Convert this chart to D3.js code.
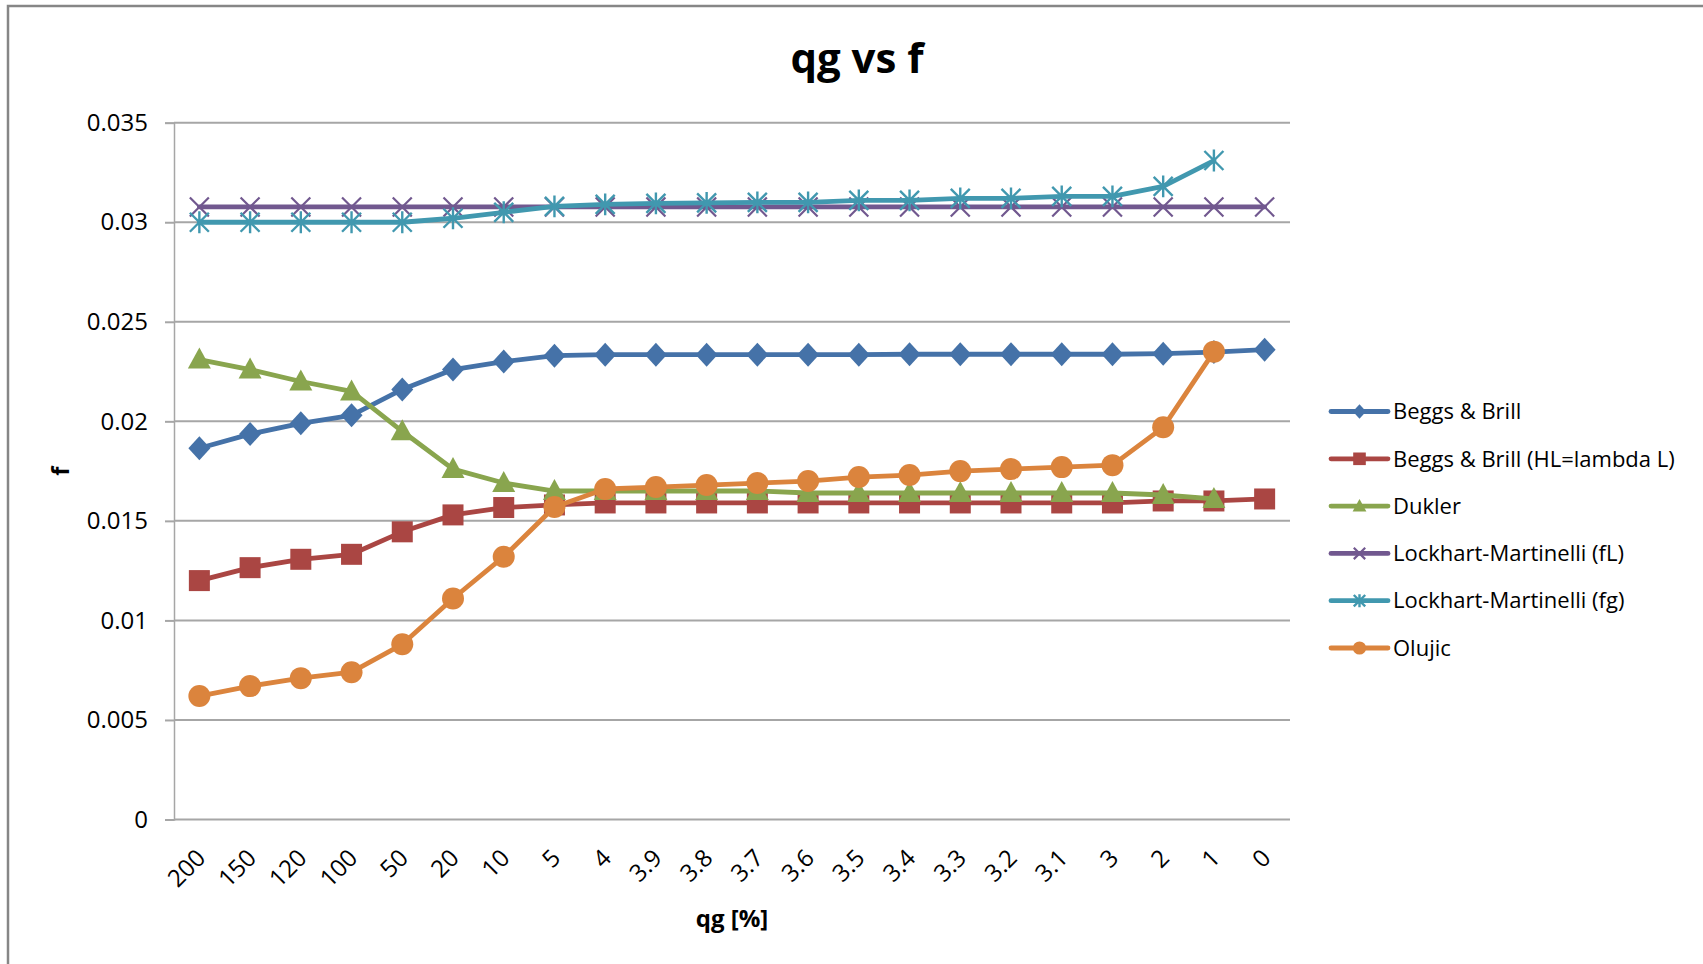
<!DOCTYPE html>
<html>
<head>
<meta charset="utf-8">
<script src="https://cdn.jsdelivr.net/npm/d3@7"></script>
<style>
  html, body { margin: 0; padding: 0; background: #fff; }
  svg { display: block; }
  text { font-family: "Open Sans", "Liberation Sans", sans-serif; fill: #000; }
</style>
</head>
<body>
<svg id="chart" width="1703" height="964"></svg>
<script>
// ---------- data ----------
const categories = ["200","150","120","100","50","20","10","5","4","3.9","3.8","3.7","3.6","3.5","3.4","3.3","3.2","3.1","3","2","1","0"];
const yTicks = [0, 0.005, 0.01, 0.015, 0.02, 0.025, 0.03, 0.035];
const yTickLabels = ["0","0.005","0.01","0.015","0.02","0.025","0.03","0.035"];

const beggsBrill   = [0.01865,0.01936,0.0199,0.0203,0.0216,0.0226,0.0230,0.0233,0.02335,0.02335,0.02335,0.02335,0.02335,0.02335,0.02337,0.02337,0.02337,0.02337,0.02337,0.0234,0.02348,0.0236];
const beggsBrillHL = [0.0120,0.01265,0.01307,0.01332,0.01445,0.0153,0.01567,0.0158,0.0159,0.0159,0.0159,0.0159,0.0159,0.0159,0.0159,0.0159,0.0159,0.0159,0.0159,0.0160,0.0160,0.0161];
const dukler       = [0.0231,0.0226,0.0220,0.0215,0.0195,0.0176,0.0169,0.0165,0.0165,0.0165,0.0165,0.0165,0.0164,0.0164,0.0164,0.0164,0.0164,0.0164,0.0164,0.0163,0.0161,null];
const lmFL         = [0.03077,0.03077,0.03077,0.03077,0.03077,0.03077,0.03077,0.03077,0.03077,0.03077,0.03077,0.03077,0.03077,0.03077,0.03077,0.03077,0.03077,0.03077,0.03077,0.03077,0.03077,0.03077];
const lmFG         = [0.0300,0.0300,0.0300,0.0300,0.0300,0.0302,0.0305,0.0308,0.0309,0.03095,0.03097,0.0310,0.0310,0.0311,0.0311,0.0312,0.0312,0.0313,0.0313,0.0318,0.0331,null];
const olujic       = [0.0062,0.0067,0.0071,0.0074,0.0088,0.0111,0.0132,0.0157,0.0166,0.0167,0.0168,0.0169,0.0170,0.0172,0.0173,0.0175,0.0176,0.0177,0.0178,0.0197,0.0235,null];

const seriesNames  = ["Beggs & Brill","Beggs & Brill (HL=lambda L)","Dukler","Lockhart-Martinelli (fL)","Lockhart-Martinelli (fg)","Olujic"];
const seriesValues = [beggsBrill, beggsBrillHL, dukler, lmFL, lmFG, olujic];
const seriesColors = ["#4572A8","#AA4643","#89A54E","#71588F","#4198AF","#DB843D"];
const seriesMarkers = ["diamond","square","triangle","x","star","circle"];

// ---------- layout ----------
const svg = d3.select("#chart");
const plot = {left: 174, right: 1290, top: 122.7, bottom: 819.5};

// outer border (right/bottom edges cropped off-canvas)
svg.append("rect").attr("x", 8).attr("y", 6).attr("width", 1800).attr("height", 1100)
  .attr("fill", "none").attr("stroke", "#868686").attr("stroke-width", 2.5);

const x = d3.scalePoint().domain(categories).range([plot.left, plot.right]).padding(0.5);
const y = d3.scaleLinear().domain([0, 0.035]).range([plot.bottom, plot.top]);

// gridlines
svg.append("g").selectAll("line").data(yTicks).join("line")
  .attr("x1", plot.left).attr("x2", plot.right)
  .attr("y1", d => y(d)).attr("y2", d => y(d))
  .attr("stroke", "#A6A6A6").attr("stroke-width", 2);

// y axis
const yAxis = d3.axisLeft(y).tickValues(yTicks)
  .tickFormat((d, i) => yTickLabels[i]).tickSize(9).tickPadding(17);
const gy = svg.append("g").attr("transform", `translate(${plot.left},0)`).call(yAxis);
gy.select(".domain").attr("stroke", "#A6A6A6").attr("stroke-width", 1.5);
gy.selectAll(".tick line").attr("stroke", "#A6A6A6").attr("stroke-width", 2);
gy.selectAll(".tick text").attr("font-size", 24).attr("fill", "#1a1a1a")
  .style("font-family", '"Open Sans", sans-serif');

// x axis labels
const xAxis = d3.axisBottom(x).tickSize(0).tickPadding(0);
const gx = svg.append("g").attr("transform", `translate(0,${plot.bottom})`).call(xAxis);
gx.select(".domain").remove();
gx.selectAll(".tick text")
  .attr("font-size", 24).attr("fill", "#1a1a1a")
  .style("font-family", '"Open Sans", sans-serif')
  .attr("text-anchor", "end").attr("dy", null).attr("y", null)
  .attr("transform", "translate(7,40) rotate(-45)");

// titles
svg.append("text").attr("x", 857).attr("y", 73).attr("text-anchor", "middle")
  .attr("font-size", 42).attr("font-weight", "bold").text("qg vs f");
svg.append("text").attr("x", (plot.left + plot.right) / 2).attr("y", 927).attr("text-anchor", "middle")
  .attr("font-size", 24).attr("font-weight", "bold").text("qg [%]");
svg.append("text").attr("transform", `translate(69,${(plot.top + plot.bottom) / 2}) rotate(-90)`)
  .attr("text-anchor", "middle").attr("font-size", 24).attr("font-weight", "bold").text("f");

// ---------- markers ----------
function drawMarker(g, type, color, s) {
  if (type === "diamond") {
    g.append("path").attr("d", `M0,${-12*s} L${11*s},0 L0,${12*s} L${-11*s},0 Z`).attr("fill", color);
  } else if (type === "square") {
    g.append("rect").attr("x", -10.5*s).attr("y", -10.5*s).attr("width", 21*s).attr("height", 21*s).attr("fill", color);
  } else if (type === "triangle") {
    g.append("path").attr("d", `M0,${-12*s} L${11.5*s},${9*s} L${-11.5*s},${9*s} Z`).attr("fill", color);
  } else if (type === "circle") {
    g.append("circle").attr("r", 11*s).attr("fill", color);
  } else if (type === "x") {
    const r = 9.5*s;
    g.append("path").attr("d", `M${-r},${-r} L${r},${r} M${-r},${r} L${r},${-r}`)
      .attr("stroke", color).attr("stroke-width", 2.2).attr("fill", "none");
  } else if (type === "star") {
    const r = 9.5*s;
    g.append("path").attr("d", `M${-r},${-r} L${r},${r} M${-r},${r} L${r},${-r} M0,${-r*1.15} L0,${r*1.15}`)
      .attr("stroke", color).attr("stroke-width", 2.4).attr("fill", "none");
  }
}

// ---------- series ----------
const line = d3.line()
  .defined(d => d.v !== null)
  .x(d => x(d.c)).y(d => y(d.v));

seriesValues.forEach((vals, si) => {
  const data = categories.map((c, i) => ({c, v: vals[i]}));
  const g = svg.append("g");
  g.append("path").datum(data).attr("d", line)
    .attr("fill", "none").attr("stroke", seriesColors[si])
    .attr("stroke-width", 4.8).attr("stroke-linejoin", "round").attr("stroke-linecap", "round");
  data.filter(d => d.v !== null).forEach(d => {
    const mg = g.append("g").attr("transform", `translate(${x(d.c)},${y(d.v)})`);
    drawMarker(mg, seriesMarkers[si], seriesColors[si], 1);
  });
});

// ---------- legend ----------
const legendY0 = 411.5, legendStep = 47.3;
const lg = svg.append("g");
seriesNames.forEach((name, i) => {
  const yy = legendY0 + i * legendStep;
  const item = lg.append("g").attr("transform", `translate(0,${yy})`);
  item.append("line").attr("x1", 1331).attr("x2", 1388).attr("y1", 0).attr("y2", 0)
    .attr("stroke", seriesColors[i]).attr("stroke-width", 4.8).attr("stroke-linecap", "round");
  const mg = item.append("g").attr("transform", "translate(1359.5,0)");
  drawMarker(mg, seriesMarkers[i], seriesColors[i], 0.6);
  item.append("text").attr("x", 1393).attr("y", 0).attr("dy", "0.35em")
    .attr("font-size", 22).attr("fill", "#1a1a1a").text(name);
});
</script>
</body>
</html>
